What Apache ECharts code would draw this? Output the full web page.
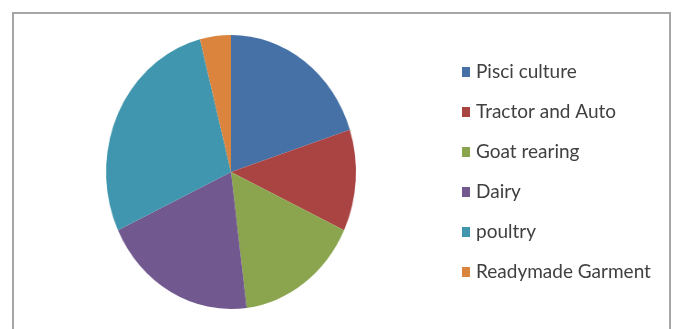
<!DOCTYPE html>
<html>
<head>
<meta charset="utf-8">
<script src="https://cdn.jsdelivr.net/npm/echarts@6/dist/echarts.min.js"></script>
<style>
  html, body { margin: 0; padding: 0; background: #fff; }
  #wrap { position: relative; width: 678px; height: 329px; }
  #legend-box, #pie-box { position: absolute; left: 0; top: 0; width: 678px; height: 329px; }
  /* the original pie is a bit squashed sideways */
  #pie-box { transform: scaleX(0.912); transform-origin: 231px 172px; }
</style>
</head>
<body>
<div id="wrap">
  <div id="legend-box"></div>
  <div id="pie-box"></div>
</div>
<script>
var categories = ['Pisci culture', 'Tractor and Auto', 'Goat rearing', 'Dairy', 'poultry', 'Readymade Garment'];
var values = [20, 12, 16, 20, 28, 4];
var colors = ['#4571a6', '#a94442', '#8aa54e', '#71588e', '#3f96ae', '#db843d'];

var pieData = categories.map(function (name, i) {
  return { name: name, value: values[i] };
});

var legendChart = echarts.init(document.getElementById('legend-box'), null, { renderer: 'canvas' });
legendChart.setOption({
  animation: false,
  color: colors,
  graphic: [{
    type: 'rect',
    shape: { x: 13, y: 13, width: 657, height: 340 },
    style: { fill: 'none', stroke: '#a6a6a6', lineWidth: 2 }
  }],
  legend: {
    orient: 'vertical',
    left: 457,
    top: 57,
    icon: 'rect',
    itemWidth: 8,
    itemHeight: 10,
    itemGap: 20,
    data: categories,
    textStyle: { fontFamily: 'Lato', fontSize: 19, lineHeight: 20, color: '#404040', padding: [0, 0, 0, 1] }
  },
  series: [{
    type: 'pie',
    radius: 0,
    center: [-100, -100],
    silent: true,
    label: { show: false },
    data: pieData
  }]
});

var pieChart = echarts.init(document.getElementById('pie-box'), null, { renderer: 'canvas' });
pieChart.setOption({
  animation: false,
  color: colors,
  series: [{
    type: 'pie',
    center: [231, 172],
    radius: 137,
    startAngle: 90,
    clockwise: true,
    label: { show: false },
    labelLine: { show: false },
    itemStyle: { borderWidth: 0 },
    data: pieData
  }]
});

window.addEventListener('resize', function () {
  legendChart.resize();
  pieChart.resize();
});
</script>
</body>
</html>
